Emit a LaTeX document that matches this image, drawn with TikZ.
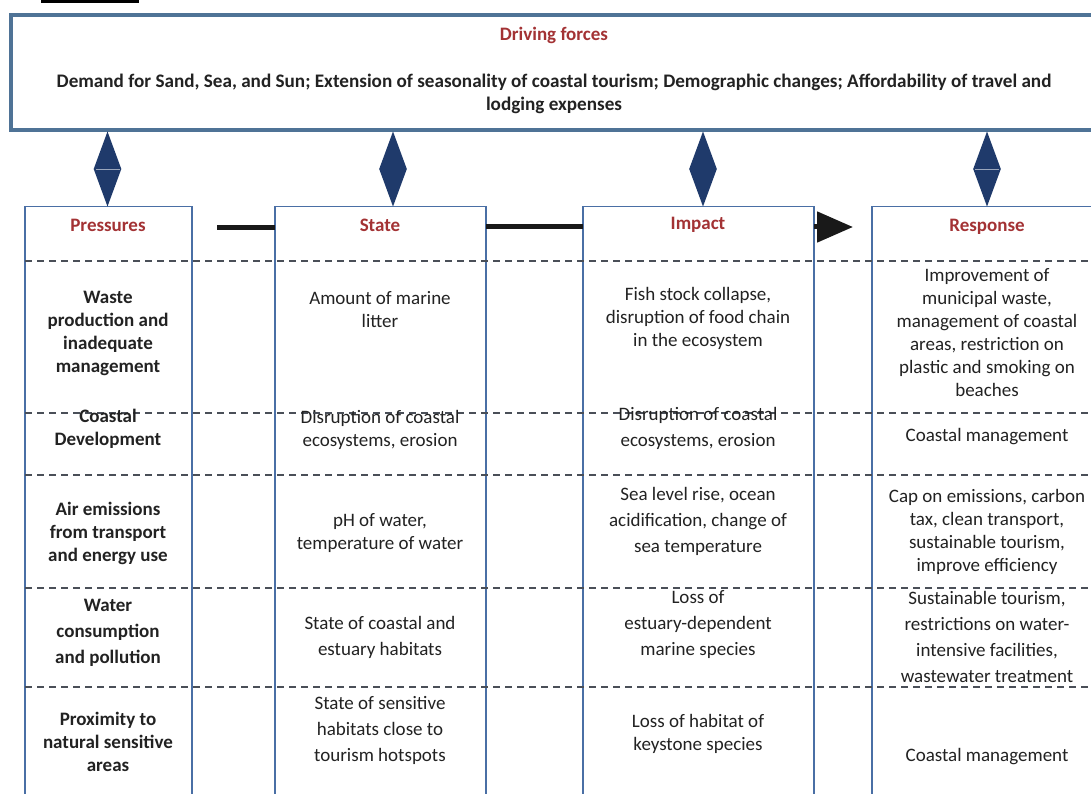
\documentclass[tikz,border=0pt]{standalone}
\usepackage{fontspec}
\setmainfont{Carlito}
\usetikzlibrary{arrows.meta,calc}
\definecolor{topblue}{HTML}{4F7396}
\definecolor{colblue}{HTML}{4A6FA5}
\definecolor{navy}{HTML}{1F3A6B}
\definecolor{labred}{HTML}{A33234}
\definecolor{textc}{HTML}{222222}
\definecolor{dashc}{HTML}{4A4F58}
\begin{document}
\begin{tikzpicture}[x=1pt,y=-1pt,
  topbox/.style={draw=topblue, line width=4pt, outer sep=0pt, inner sep=0pt},
  colbox/.style={draw=colblue, line width=1.8pt, outer sep=0pt, inner sep=0pt, anchor=north west},
  lab/.style={font=\fontsize{19}{23}\selectfont\bfseries, text=labred, inner sep=0pt},
  txt/.style={align=center, font=\fontsize{19}{23}\selectfont, text=textc, inner sep=0pt},
  btxt/.style={align=center, font=\fontsize{19}{23}\selectfont\bfseries, text=textc, inner sep=0pt},
  htxt/.style={align=center, font=\fontsize{19.15}{23}\selectfont\bfseries, text=textc, inner sep=0pt},
  wide/.style={align=center, font=\fontsize{19}{26}\selectfont, text=textc, inner sep=0pt},
  bwide/.style={align=center, font=\fontsize{19}{26}\selectfont\bfseries, text=textc, inner sep=0pt},
  rule/.style={draw=dashc, line width=1.1pt, dash pattern=on 7pt off 5pt},
  conn/.style={draw=black!90, line width=5pt},
  diam/.style={fill=navy},
  seam/.style={draw=navy!45!white, line width=0.6pt},
  arr/.style={draw=black!90, fill=black!90, line width=5pt, -{Triangle[width=30pt,length=36pt]}}
]
\useasboundingbox (0,0) rectangle (1091,794);
\fill[white] (0,0) rectangle (1091,794);
\draw[black, line width=2.5pt] (41,1.5) -- (139,1.5);

% driving forces box
\node[topbox, anchor=north west, minimum width=1084pt, minimum height=115pt] (top) at (11,15) {};
\node[lab] (df) at (554,35) {Driving forces};
\node[htxt] (dft) at (554,93.5) {Demand for Sand, Sea, and Sun; Extension of seasonality of coastal tourism; Demographic changes; Affordability of travel and\\lodging expenses};

% columns
\node[colbox, minimum width=167pt, minimum height=600pt] (P) at (25,206.5) {};
\node[colbox, minimum width=211pt, minimum height=600pt] (S) at (275,206.5) {};
\node[colbox, minimum width=231pt, minimum height=600pt] (I) at (583,206.5) {};
\node[colbox, minimum width=240pt, minimum height=600pt] (R) at (872,206.5) {};

% dashed rules
\foreach \yy in {261,413,475,588,687}{
  \draw[rule] (25,\yy) -- (1095,\yy);
}

% headers
\node[lab] (hP) at (108,225) {Pressures};
\node[lab] (hS) at (380,225) {State};
\node[lab] (hI) at (698,225) {Impact};
\node[lab] (hR) at (987,227) {Response};

% diamonds (two-headed connectors between driving forces and columns)
\coordinate (d1) at (107.5,0);
\coordinate (d2) at (393,0);
\coordinate (d3) at (703,0);
\coordinate (d4) at (987,0);
\foreach \d/\c in {d1/P,d2/S,d3/I,d4/R}{
  \coordinate (t\d) at ($(\d |- top.south)+(0,1.5)$);
  \coordinate (b\d) at (\d |- \c.north);
  \coordinate (m\d) at ($(t\d)!0.5!(b\d)$);
  \fill[diam] (t\d) -- ($(m\d)+(13.8,0)$) -- (b\d) -- ($(m\d)-(13.8,0)$) -- cycle;
}
\draw[seam] ($(md1)-(12,0)$) -- ($(md1)+(12,0)$);
\draw[seam] ($(md4)-(12,0)$) -- ($(md4)+(12,0)$);

% horizontal connectors
\coordinate (a1) at (217,228);
\coordinate (y2) at (0,227);
\coordinate (a3) at (853,227);
\draw[conn] (a1) -- (a1 -| S.west);
\draw[conn] (S.east |- y2) -- (I.west |- y2);
\draw[arr] (I.east |- a3) -- (a3);

% row 1
\node[btxt] (p1) at (108,333) {Waste\\production and\\inadequate\\management};
\node[txt] (s1) at (380,309.5) {Amount of marine\\litter};
\node[txt] (i1) at (698,318) {Fish stock collapse,\\disruption of food chain\\in the ecosystem};
\node[txt] (r1) at (987,332.5) {Improvement of\\municipal waste,\\management of coastal\\areas, restriction on\\plastic and smoking on\\beaches};

% row 2
\node[btxt] (p2) at (108,429) {Coastal\\Development};
\node[txt] (s2) at (380,429.5) {Disruption of coastal\\ecosystems, erosion};
\node[wide] (i2) at (698,428) {Disruption of coastal\\ecosystems, erosion};
\node[txt] (r2) at (987,437) {Coastal management};

% row 3
\node[btxt] (p3) at (108,533) {Air emissions\\from transport\\and energy use};
\node[txt] (s3) at (380,533.5) {pH of water,\\temperature of water};
\node[wide] (i3) at (698,521.5) {Sea level rise, ocean\\acidification, change of\\sea temperature};
\node[txt] (r3) at (987,531.5) {Cap on emissions, carbon\\tax, clean transport,\\sustainable tourism,\\improve efficiency};

% row 4
\node[bwide] (p4) at (108,632.5) {Water\\consumption\\and pollution};
\node[wide] (s4) at (380,637) {State of coastal and\\estuary habitats};
\node[wide] (i4) at (698,625) {Loss of\\estuary-dependent\\marine species};
\node[wide] (r4) at (987,637) {Sustainable tourism,\\restrictions on water-\\intensive facilities,\\wastewater treatment};

% row 5
\node[btxt] (p5) at (108,742) {Proximity to\\natural sensitive\\areas};
\node[wide] (s5) at (380,730) {State of sensitive\\habitats close to\\tourism hotspots};
\node[txt] (i5) at (698,734) {Loss of habitat of\\keystone species};
\node[txt] (r5) at (987,757) {Coastal management};
\end{tikzpicture}
\end{document}
